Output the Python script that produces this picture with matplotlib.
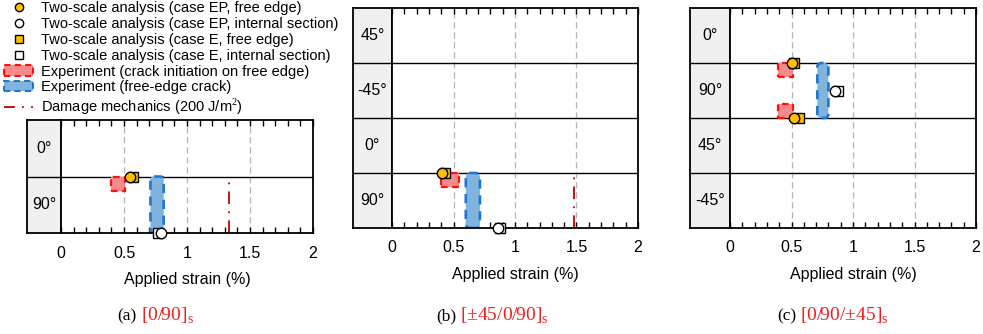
import numpy as np
import matplotlib
matplotlib.use('Agg')
import matplotlib.pyplot as plt
from matplotlib.patches import Rectangle, FancyBboxPatch, Patch
from matplotlib.lines import Line2D

plt.rcParams['font.family'] = ['Liberation Sans', 'DejaVu Sans']
plt.rcParams['mathtext.fontset'] = 'custom'
plt.rcParams['mathtext.rm'] = 'Liberation Serif'

# ply stacks, top to bottom
plies_a = ['0°', '90°']
plies_b = ['45°', '-45°', '0°', '90°']
plies_c = ['0°', '90°', '45°', '-45°']

# two-scale analysis results: strain (%) and position in the stack (0 = mid-plane)
ep_free_x_a, ep_free_y_a = [0.55], [1.0]
ep_free_x_b, ep_free_y_b = [0.41], [1.0]
ep_free_x_c, ep_free_y_c = [0.50, 0.52], [3.0, 2.0]

e_free_x_a, e_free_y_a = [0.57], [1.0]
e_free_x_b, e_free_y_b = [0.43], [1.0]
e_free_x_c, e_free_y_c = [0.52, 0.56], [3.0, 2.0]

ep_int_x_a, ep_int_y_a = [0.79], [0.0]
ep_int_x_b, ep_int_y_b = [0.86], [0.0]
ep_int_x_c, ep_int_y_c = [0.855], [2.5]

e_int_x_a, e_int_y_a = [0.77], [0.0]
e_int_x_b, e_int_y_b = [0.88], [0.0]
e_int_x_c, e_int_y_c = [0.88], [2.5]

# experiments: (strain min, strain max, y min, y max)
crack_init_a = [(0.40, 0.51, 0.75, 1.0)]
crack_init_b = [(0.40, 0.545, 0.75, 1.0)]
crack_init_c = [(0.39, 0.51, 2.75, 3.0), (0.39, 0.51, 2.0, 2.25)]

edge_crack_a = [(0.71, 0.815, 0.0, 1.0)]
edge_crack_b = [(0.60, 0.715, 0.0, 1.0)]
edge_crack_c = [(0.71, 0.80, 2.0, 3.0)]

# damage mechanics prediction (strain, y min, y max)
damage_a = [(1.333, 0.0, 1.0)]
damage_b = [(1.48, 0.0, 1.0)]
damage_c = []

captions = ['(a)', '(b)', '(c)']
layups = [r'[0/90]$_{\mathrm{s}}$', r'[±45/0/90]$_{\mathrm{s}}$', r'[0/90/±45]$_{\mathrm{s}}$']

GOLD = '#FFC000'
RED_FILL = '#F98A8A'
RED_EDGE = '#FF1010'
BLUE_FILL = '#80B4DE'
BLUE_EDGE = '#1F78C8'
DMG = '#C00000'
FS = 11.5

W, H = 983, 334
fig = plt.figure(figsize=(W / 100, H / 100), dpi=100)


def px_axes(l, t, r, b):
    return fig.add_axes([l / W, 1 - b / H, (r - l) / W, (b - t) / H])


def draw_panel(lab_box, plot_box, plies, ep_free, e_free, ep_int, e_int,
               crack_init, edge_crack, damage, caption, layup, cap_x):
    n = len(plies)
    lab = px_axes(*lab_box)
    lab.set_facecolor('#F0F0F0')
    lab.set_xlim(0, 1)
    lab.set_ylim(0, n)
    lab.set_xticks([])
    lab.set_yticks([])
    for i, name in enumerate(plies):
        lab.text(0.5, n - i - 0.5, name, ha='center', va='center', fontsize=FS)
        if i > 0:
            lab.axhline(n - i, color='black', lw=1)
    for s in lab.spines.values():
        s.set_linewidth(1.3)

    ax = px_axes(*plot_box)
    ax.set_xlim(0, 2)
    ax.set_ylim(0, n)
    ax.set_yticks([])
    ax.set_xticks(np.arange(0, 2.01, 0.5))
    ax.set_xticklabels(['0', '0.5', '1', '1.5', '2'])
    ax.set_xticks(np.arange(0, 2.01, 0.1), minor=True)
    ax.tick_params(which='both', direction='in', top=True, length=4, width=1)
    ax.tick_params(axis='x', labelsize=FS, pad=9)
    for s in ax.spines.values():
        s.set_linewidth(1.3)
    for g in [0.5, 1.0, 1.5]:
        ax.axvline(g, color='#B4B4B4', lw=0.9, ls=(0, (5, 3)), zorder=0)
    for i in range(1, n):
        ax.axhline(i, color='black', lw=1, zorder=1)
    ax.set_xlabel('Applied strain (%)', fontsize=FS, labelpad=8)

    for x0, x1, y0, y1 in crack_init:
        ax.add_patch(Rectangle((x0, y0), x1 - x0, y1 - y0, facecolor=RED_FILL,
                               edgecolor=RED_EDGE, lw=1.6, ls=(0, (3, 2)), zorder=2))
    for x0, x1, y0, y1 in edge_crack:
        ax.add_patch(FancyBboxPatch((x0, y0), x1 - x0, y1 - y0,
                                    boxstyle='round,pad=0,rounding_size=0.035',
                                    mutation_aspect=n / 2 * 1.1,
                                    facecolor=BLUE_FILL, edgecolor=BLUE_EDGE,
                                    lw=1.9, ls=(0, (3.5, 2.5)), zorder=2))
    for x, y0, y1 in damage:
        ax.plot([x, x], [y0, y1], color=DMG, lw=1.3, ls=(0, (7, 4, 1, 4)), zorder=2)

    ax.plot(e_free[0], e_free[1], 's', ms=6.5, mfc=GOLD, mec='black', mew=1,
            ls='none', clip_on=False, zorder=4)
    ax.plot(ep_free[0], ep_free[1], 'o', ms=7.5, mfc=GOLD, mec='black', mew=1,
            ls='none', clip_on=False, zorder=5)
    ax.plot(e_int[0], e_int[1], 's', ms=6.5, mfc='white', mec='black', mew=1,
            ls='none', clip_on=False, zorder=4)
    ax.plot(ep_int[0], ep_int[1], 'o', ms=7.5, mfc='white', mec='black', mew=1,
            ls='none', clip_on=False, zorder=5)

    fig.text((cap_x - 2) / W, 1 - 316 / H, caption, ha='right', va='center',
             fontsize=12.5, family='Liberation Serif')
    fig.text((cap_x + 2) / W, 1 - 316 / H, layup, ha='left', va='center',
             fontsize=14, family='Liberation Serif', color='#F02020')


draw_panel((27, 120, 61, 233), (61, 120, 313, 233), plies_a,
           (ep_free_x_a, ep_free_y_a), (e_free_x_a, e_free_y_a),
           (ep_int_x_a, ep_int_y_a), (e_int_x_a, e_int_y_a),
           crack_init_a, edge_crack_a, damage_a, captions[0], layups[0], 139)
draw_panel((353, 8, 392, 228), (392, 8, 638, 228), plies_b,
           (ep_free_x_b, ep_free_y_b), (e_free_x_b, e_free_y_b),
           (ep_int_x_b, ep_int_y_b), (e_int_x_b, e_int_y_b),
           crack_init_b, edge_crack_b, damage_b, captions[1], layups[1], 458)
draw_panel((690, 8, 730, 228), (730, 8, 976, 228), plies_c,
           (ep_free_x_c, ep_free_y_c), (e_free_x_c, e_free_y_c),
           (ep_int_x_c, ep_int_y_c), (e_int_x_c, e_int_y_c),
           crack_init_c, edge_crack_c, damage_c, captions[2], layups[2], 798)

handles = [
    Line2D([], [], marker='o', ls='none', ms=6, mfc=GOLD, mec='black'),
    Line2D([], [], marker='o', ls='none', ms=6, mfc='white', mec='black'),
    Line2D([], [], marker='s', ls='none', ms=5.5, mfc=GOLD, mec='black'),
    Line2D([], [], marker='s', ls='none', ms=5.5, mfc='white', mec='black'),
    Patch(facecolor=RED_FILL, edgecolor=RED_EDGE, lw=1.5, ls=(0, (3, 2))),
    Patch(facecolor=BLUE_FILL, edgecolor=BLUE_EDGE, lw=1.5, ls=(0, (3, 2))),
    Line2D([], [], color=DMG, lw=1.3, ls=(0, (6, 4, 1, 4))),
]
labels = [
    'Two-scale analysis (case EP, free edge)',
    'Two-scale analysis (case EP, internal section)',
    'Two-scale analysis (case E, free edge)',
    'Two-scale analysis (case E, internal section)',
    'Experiment (crack initiation on free edge)',
    'Experiment (free-edge crack)',
    'Damage mechanics (200 J/m$^2$)',
]
fig.legend(handles, labels, loc='upper left', bbox_to_anchor=(4 / W, 1 - 1 / H),
           frameon=False, fontsize=10.5, handlelength=2.0, handleheight=0.7,
           handletextpad=0.55, labelspacing=0.13, borderpad=0, borderaxespad=0)

fig.savefig('out.png', dpi=100)
